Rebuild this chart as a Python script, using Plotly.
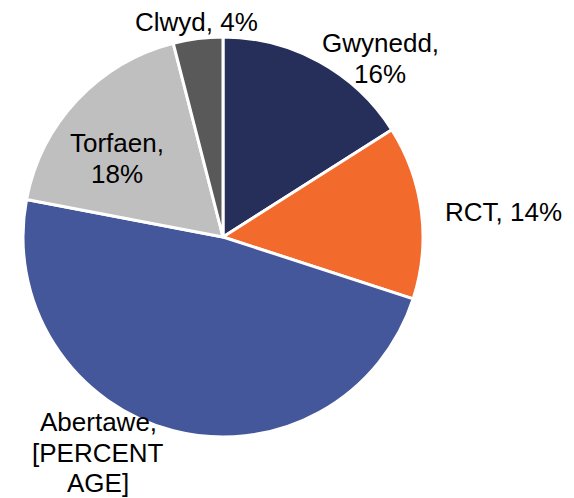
import plotly.graph_objects as go

labels = ["Gwynedd", "RCT", "Abertawe", "Torfaen", "Clwyd"]
values = [16, 14, 48, 18, 4]
label_lines = [["Gwynedd,", "16%"], ["RCT, 14%"], ["Abertawe,", "[PERCENT", "AGE]"], ["Torfaen,", "18%"], ["Clwyd, 4%"]]
colors = ["#262E5A", "#F26A2C", "#44579B", "#BFBFBF", "#595959"]

W, H = 574, 498
# label centre (x, first-line y) in pixels and line spacing
label_pos = [(380, 43), (503, 212), (98, 422), (117, 143), (196, 22)]
LINE = 30.5

fig = go.Figure(go.Pie(
    labels=labels, values=values, sort=False, direction="clockwise", rotation=0,
    marker=dict(colors=colors, line=dict(color="white", width=3)),
    textinfo="none", hoverinfo="label+percent", showlegend=False,
    domain=dict(x=[23 / W, 423 / W], y=[1 - 437 / H, 1 - 37 / H]),
))

for lines, (px, py) in zip(label_lines, label_pos):
    for i, t in enumerate(lines):
        fig.add_annotation(x=px / W, y=1 - (py + i * LINE) / H, xref="paper", yref="paper",
                           text=t, showarrow=False, xanchor="center", yanchor="middle",
                           font=dict(family="Liberation Sans, Arial", size=26, color="black"))

fig.update_layout(width=W, height=H, margin=dict(l=0, r=0, t=0, b=0),
                  paper_bgcolor="white", plot_bgcolor="white")
fig.write_html("out.html", config={"displayModeBar": False},
               post_script="document.body.style.margin='0';")
